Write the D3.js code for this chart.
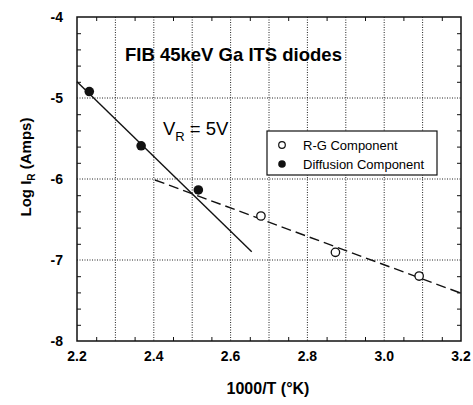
<!DOCTYPE html>
<html><head><meta charset="utf-8">
<script src="https://cdn.jsdelivr.net/npm/d3@7"></script>
<style>body{margin:0;background:#fff}svg{display:block}text{font-family:"Liberation Sans",Arial,sans-serif}</style>
</head><body>
<script>
const xTicks = [2.2, 2.4, 2.6, 2.8, 3.0, 3.2];
const xTickLabels = ["2.2", "2.4", "2.6", "2.8", "3.0", "3.2"];
const yTicks = [-4, -5, -6, -7, -8];
const yTickLabels = ["-4", "-5", "-6", "-7", "-8"];
const xGrid = [2.3, 2.4, 2.5, 2.6, 2.7, 2.8, 2.9, 3.0, 3.1];
const yGrid = [-5, -6, -7];
const diffX = [2.232, 2.367, 2.516];
const diffY = [-4.92, -5.59, -6.135];
const rgX = [2.679, 2.873, 3.091];
const rgY = [-6.457, -6.905, -7.198];
const diffFitX = [2.2, 2.655];
const diffFitY = [-4.80, -6.897];
const rgFitX = [2.403, 3.2];
const rgFitY = [-6.012, -7.41];

const W = 473, H = 405;
const m = {l: 77, r: 12, t: 17, b: 64};
const svg = d3.select("body").append("svg").attr("width", W).attr("height", H);
const x = d3.scaleLinear().domain([2.2, 3.2]).range([m.l, W - m.r]);
const y = d3.scaleLinear().domain([-8, -4]).range([H - m.b, m.t]);
const x0 = x(2.2), x1 = x(3.2), y0 = y(-8), y1 = y(-4);

// grid
const g = svg.append("g");
g.selectAll(".vg").data(xGrid).join("line")
  .attr("x1", d => x(d)).attr("x2", d => x(d)).attr("y1", y1).attr("y2", y0)
  .attr("stroke", "#222").attr("stroke-width", 1).attr("stroke-dasharray", "1,1.5");
g.selectAll(".hg").data(yGrid).join("line")
  .attr("y1", d => y(d)).attr("y2", d => y(d)).attr("x1", x0).attr("x2", x1)
  .attr("stroke", "#222").attr("stroke-width", 1).attr("stroke-dasharray", "1,1.5");

// axes with inward ticks
const xMinor = d3.range(2.25, 3.2, 0.1);
const yMinor = d3.range(-7.8, -4.0, 0.2).filter(v => Math.abs(v - Math.round(v)) > 0.01);
svg.append("g").attr("transform", `translate(0,${y0})`)
  .call(d3.axisBottom(x).tickValues(xMinor).tickSize(-4).tickFormat(""))
  .call(a => a.select(".domain").remove());
svg.append("g").attr("transform", `translate(0,${y1})`)
  .call(d3.axisTop(x).tickValues(xMinor).tickSize(-4).tickFormat(""))
  .call(a => a.select(".domain").remove());
svg.append("g").attr("transform", `translate(${x0},0)`)
  .call(d3.axisLeft(y).tickValues(yMinor).tickSize(-4).tickFormat(""))
  .call(a => a.select(".domain").remove());
svg.append("g").attr("transform", `translate(${x1},0)`)
  .call(d3.axisRight(y).tickValues(yMinor).tickSize(-4).tickFormat(""))
  .call(a => a.select(".domain").remove());
svg.selectAll(".tick line").attr("stroke", "#111").attr("stroke-width", 1);

// frame
svg.append("rect").attr("x", x0).attr("y", y1).attr("width", x1 - x0).attr("height", y0 - y1)
  .attr("fill", "none").attr("stroke", "#111").attr("stroke-width", 1.5);

// tick labels
svg.append("g").selectAll("text").data(xTicks).join("text")
  .attr("x", d => x(d)).attr("y", y0 + 20).attr("text-anchor", "middle")
  .attr("font-size", 14).attr("font-weight", "bold").text((d, i) => xTickLabels[i]);
svg.append("g").selectAll("text").data(yTicks).join("text")
  .attr("x", x0 - 14).attr("y", d => y(d) + 5).attr("text-anchor", "end")
  .attr("font-size", 14).attr("font-weight", "bold").text((d, i) => yTickLabels[i]);

// axis titles
svg.append("text").attr("x", 268).attr("y", 394).attr("text-anchor", "middle")
  .attr("font-size", 16).attr("font-weight", "bold").text("1000/T (°K)");
const yt = svg.append("text").attr("transform", "translate(31,167) rotate(-90)")
  .attr("text-anchor", "middle").attr("font-size", 15).attr("font-weight", "bold");
yt.append("tspan").text("Log I");
yt.append("tspan").attr("font-size", 10).attr("dy", 4).text("R");
yt.append("tspan").attr("dy", -4).text("  (Amps)");

// fit lines
const line = d3.line().x(d => x(d[0])).y(d => y(d[1]));
svg.append("path").datum(diffFitX.map((v, i) => [v, diffFitY[i]])).attr("d", line)
  .attr("fill", "none").attr("stroke", "#111").attr("stroke-width", 1.4);
svg.append("path").datum(rgFitX.map((v, i) => [v, rgFitY[i]])).attr("d", line)
  .attr("fill", "none").attr("stroke", "#111").attr("stroke-width", 1.4).attr("stroke-dasharray", "10,5");

// points
svg.append("g").selectAll("circle").data(diffX).join("circle")
  .attr("cx", d => x(d)).attr("cy", (d, i) => y(diffY[i])).attr("r", 4.8).attr("fill", "#111");
svg.append("g").selectAll("circle").data(rgX).join("circle")
  .attr("cx", d => x(d)).attr("cy", (d, i) => y(rgY[i])).attr("r", 4.2).attr("fill", "#fff")
  .attr("stroke", "#111").attr("stroke-width", 1.3);

// title
svg.append("text").attr("x", 125).attr("y", 61).attr("font-size", 18.5).attr("font-weight", "bold")
  .text("FIB 45keV Ga ITS diodes");

// V_R label
const vr = svg.append("text").attr("x", 163).attr("y", 135).attr("font-size", 18.5);
vr.append("tspan").text("V");
vr.append("tspan").attr("font-size", 13).attr("dy", 6).text("R");
vr.append("tspan").attr("dy", -6).text(" = 5V");

// legend
const lg = svg.append("g");
lg.append("rect").attr("x", 267).attr("y", 131).attr("width", 170).attr("height", 44)
  .attr("fill", "#fff").attr("stroke", "#111").attr("stroke-width", 1.2);
lg.append("circle").attr("cx", 282).attr("cy", 145).attr("r", 3.3).attr("fill", "#fff").attr("stroke", "#111").attr("stroke-width", 1.2);
lg.append("circle").attr("cx", 282).attr("cy", 164).attr("r", 3.8).attr("fill", "#111");
lg.append("text").attr("x", 303).attr("y", 150).attr("font-size", 13).text("R-G Component");
lg.append("text").attr("x", 303).attr("y", 169).attr("font-size", 13).text("Diffusion Component");
</script>
</body></html>
